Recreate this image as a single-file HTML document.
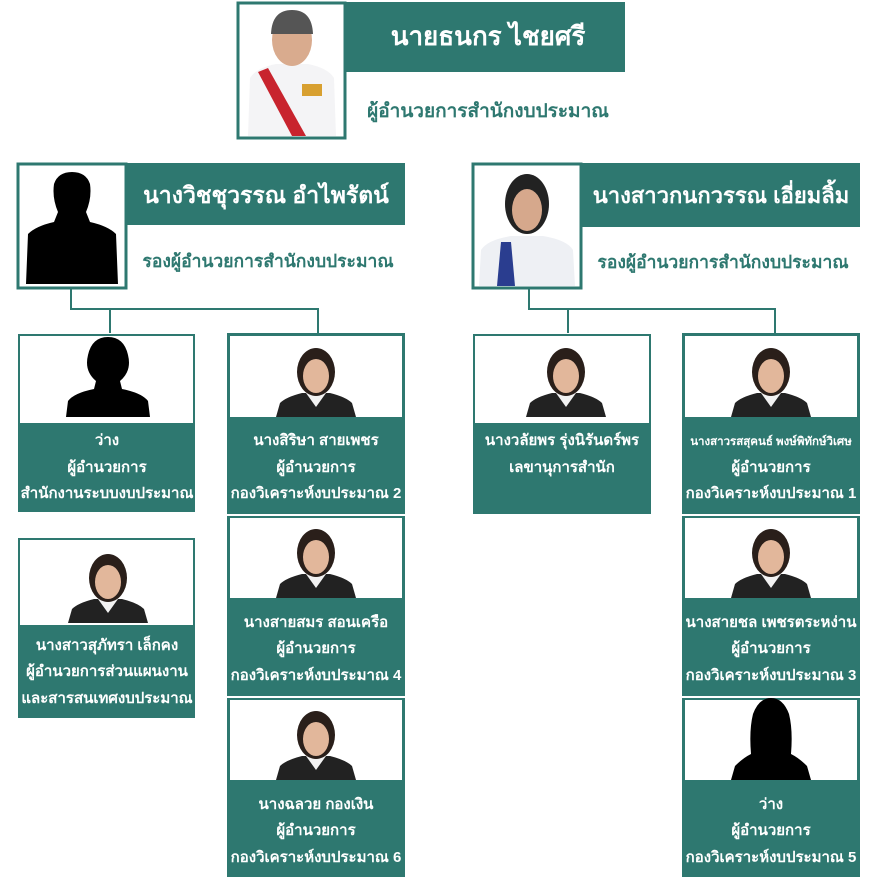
<!DOCTYPE html>
<html><head><meta charset="utf-8"><style>
html,body{margin:0;padding:0;background:#fff;}
svg{display:block;}
text{font-family:"Liberation Sans",sans-serif;font-weight:bold;}
</style></head><body>
<svg width="880" height="880" viewBox="0 0 880 880" xmlns="http://www.w3.org/2000/svg">
<defs>
<g id="person">
<path d="M-40,0 L-36,-14 Q-30,-20 -14,-24 L14,-24 Q30,-20 36,-14 L40,0 Z" fill="#222"/>
<path d="M-10,-24 L0,-10 L10,-24 Z" fill="#f2f2f2"/>
<ellipse cx="0" cy="-45" rx="19" ry="24" fill="#2a1f1a"/>
<ellipse cx="0" cy="-41" rx="13" ry="17" fill="#e2b79b"/>
</g>
<g id="sil">
<path d="M-42,0 L-40,-16 Q-34,-24 -14,-28 L-12,-36 Q-24,-46 -20,-62 Q-16,-80 0,-80 Q16,-80 20,-62 Q24,-46 12,-36 L14,-28 Q34,-24 40,-16 L42,0 Z" fill="#000"/>
</g>
</defs>
<g fill="none" stroke="#2e7870" stroke-width="2">
<path d="M71,288 V309 H318 V333 M110,309 V333"/>
<path d="M529,288 V309 H775 V333 M568,309 V333"/>
</g>
<!-- top -->
<rect x="238" y="3" width="107" height="135" fill="#fff" stroke="#2e7870" stroke-width="3"/>
<g transform="translate(292,136)">
<path d="M-44,0 L-42,-58 Q-36,-68 -16,-72 L16,-72 Q36,-68 42,-58 L44,0 Z" fill="#f4f4f6"/>
<path d="M-34,-64 L-24,-68 L14,0 L0,0 Z" fill="#c8242e"/>
<rect x="10" y="-52" width="20" height="12" fill="#d8a030"/>
<ellipse cx="0" cy="-96" rx="20" ry="26" fill="#d9ab8e"/>
<path d="M-21,-102 Q-20,-126 0,-126 Q20,-126 21,-102 Z" fill="#555"/>
</g>
<rect x="345" y="2" width="280" height="70" fill="#2e7870"/>
<text x="488" y="45" font-size="26" fill="#fff" text-anchor="middle">นายธนกร ไชยศรี</text>
<text x="488" y="117" font-size="19" fill="#2e7870" text-anchor="middle">ผู้อำนวยการสำนักงบประมาณ</text>
<!-- left deputy -->
<rect x="18" y="164" width="108" height="124" fill="#fff" stroke="#2e7870" stroke-width="3"/>
<g transform="translate(72,284)"><path d="M-46,0 L-44,-50 Q-36,-58 -18,-62 L-14,-72 Q-20,-86 -18,-100 Q-14,-112 0,-112 Q14,-112 18,-100 Q20,-86 14,-72 L18,-62 Q36,-58 44,-50 L46,0 Z" fill="#000"/></g>
<rect x="126" y="163" width="279" height="62" fill="#2e7870"/>
<text x="266" y="203" font-size="23" fill="#fff" text-anchor="middle">นางวิชชุวรรณ อำไพรัตน์</text>
<text x="268" y="267" font-size="17.5" fill="#2e7870" text-anchor="middle">รองผู้อำนวยการสำนักงบประมาณ</text>
<!-- right deputy -->
<rect x="473" y="164" width="108" height="124" fill="#fff" stroke="#2e7870" stroke-width="3"/>
<g transform="translate(527,286)">
<path d="M-48,0 L-46,-36 Q-40,-46 -16,-50 L16,-50 Q40,-46 46,-36 L48,0 Z" fill="#eef0f4"/>
<path d="M-30,0 L-26,-44 L-16,-44 L-12,0 Z" fill="#2a3d8f"/>
<ellipse cx="0" cy="-82" rx="22" ry="30" fill="#222"/>
<ellipse cx="0" cy="-76" rx="15" ry="21" fill="#d6a88c"/>
</g>
<rect x="581" y="163" width="279" height="64" fill="#2e7870"/>
<text x="721" y="203" font-size="22" fill="#fff" text-anchor="middle">นางสาวกนกวรรณ เอี่ยมลิ้ม</text>
<text x="723" y="268" font-size="17.5" fill="#2e7870" text-anchor="middle">รองผู้อำนวยการสำนักงบประมาณ</text>

<g font-size="15" fill="#fff" text-anchor="middle">
<rect x="18" y="334" width="177" height="178" fill="#2e7870"/>
<rect x="20" y="336" width="173" height="87" fill="#fff"/>
<use href="#sil" transform="translate(108,417)"/>
<text x="107" y="445">ว่าง</text>
<text x="107" y="472">ผู้อำนวยการ</text>
<text x="107" y="498">สำนักงานระบบงบประมาณ</text>
<rect x="18" y="538" width="177" height="180" fill="#2e7870"/>
<rect x="20" y="540" width="173" height="85" fill="#fff"/>
<use href="#person" transform="translate(108,623)"/>
<text x="107" y="650">นางสาวสุภัทรา เล็กคง</text>
<text x="107" y="676">ผู้อำนวยการส่วนแผนงาน</text>
<text x="107" y="703">และสารสนเทศงบประมาณ</text>
<rect x="227" y="333" width="178" height="544" fill="#2e7870"/>
<rect x="230" y="336" width="172" height="81" fill="#fff"/>
<rect x="230" y="518" width="172" height="80" fill="#fff"/>
<rect x="230" y="700" width="172" height="80" fill="#fff"/>
<rect x="227" y="514" width="178" height="2" fill="#fff"/>
<rect x="227" y="696" width="178" height="2" fill="#fff"/>
<use href="#person" transform="translate(316,417)"/>
<use href="#person" transform="translate(316,598)"/>
<use href="#person" transform="translate(316,780)"/>
<text x="316" y="445">นางสิริษา สายเพชร</text>
<text x="316" y="472">ผู้อำนวยการ</text>
<text x="316" y="498">กองวิเคราะห์งบประมาณ 2</text>
<text x="316" y="627">นางสายสมร สอนเครือ</text>
<text x="316" y="653">ผู้อำนวยการ</text>
<text x="316" y="680">กองวิเคราะห์งบประมาณ 4</text>
<text x="316" y="809">นางฉลวย กองเงิน</text>
<text x="316" y="835">ผู้อำนวยการ</text>
<text x="316" y="862">กองวิเคราะห์งบประมาณ 6</text>
<rect x="473" y="334" width="178" height="180" fill="#2e7870"/>
<rect x="475" y="336" width="174" height="87" fill="#fff"/>
<use href="#person" transform="translate(566,417)"/>
<text x="562" y="445">นางวลัยพร รุ่งนิรันดร์พร</text>
<text x="562" y="472">เลขานุการสำนัก</text>
<rect x="682" y="333" width="178" height="544" fill="#2e7870"/>
<rect x="685" y="336" width="172" height="81" fill="#fff"/>
<rect x="685" y="518" width="172" height="80" fill="#fff"/>
<rect x="685" y="700" width="172" height="80" fill="#fff"/>
<rect x="682" y="514" width="178" height="2" fill="#fff"/>
<rect x="682" y="696" width="178" height="2" fill="#fff"/>
<use href="#person" transform="translate(771,417)"/>
<use href="#person" transform="translate(771,598)"/>
<g transform="translate(771,780)"><path d="M-40,0 L-36,-14 Q-28,-22 -20,-26 Q-22,-50 -18,-66 Q-12,-82 0,-82 Q12,-82 18,-66 Q22,-50 20,-26 Q28,-22 36,-14 L40,0 Z" fill="#000"/></g>
<text x="771" y="445" font-size="11.5">นางสาวรสสุคนธ์ พงษ์พิทักษ์วิเศษ</text>
<text x="771" y="472">ผู้อำนวยการ</text>
<text x="771" y="498">กองวิเคราะห์งบประมาณ 1</text>
<text x="771" y="627">นางสายชล เพชรตระหง่าน</text>
<text x="771" y="653">ผู้อำนวยการ</text>
<text x="771" y="680">กองวิเคราะห์งบประมาณ 3</text>
<text x="771" y="809">ว่าง</text>
<text x="771" y="835">ผู้อำนวยการ</text>
<text x="771" y="862">กองวิเคราะห์งบประมาณ 5</text>
</g>
</svg>
</body></html>
